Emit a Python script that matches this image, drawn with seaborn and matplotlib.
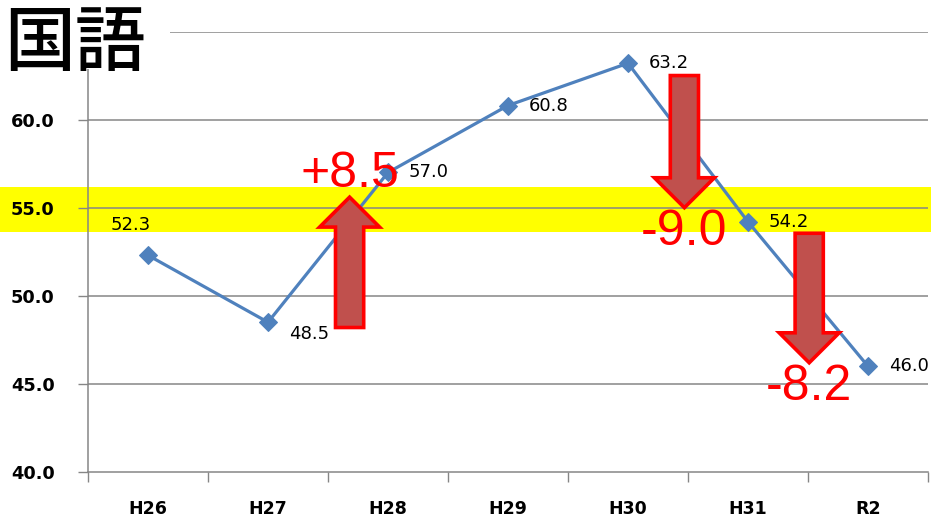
import matplotlib
matplotlib.use("Agg")
import matplotlib.pyplot as plt
from matplotlib.patches import Polygon, Rectangle
import seaborn as sns
import pandas as pd

# ---- data ----
categories = ["H26", "H27", "H28", "H29", "H30", "H31", "R2"]
scores = [52.3, 48.5, 57.0, 60.8, 63.2, 54.2, 46.0]
title_text = "国語"
y_ticks = [40.0, 45.0, 50.0, 55.0, 60.0, 65.0]
band_low, band_high = 53.6, 56.2

# change annotations (arrows between years)
change_labels = ["+8.5", "-9.0", "-8.2"]
arrow_x = [1.68, 4.47, 5.51]
arrow_start = [48.2, 62.5, 53.55]
arrow_end = [55.6, 55.0, 46.2]
change_label_y = [56.9, 53.6, 44.8]

# ---- style ----
sns.set_theme(style="white")
plt.rcParams["font.family"] = ["DejaVu Sans", "Noto Sans CJK JP"]

fig = plt.figure(figsize=(9.31, 5.21), dpi=100, facecolor="white")
ax = fig.add_axes([88 / 931, 49 / 521, 840 / 931, 440.5 / 521])
ax.set_facecolor("white")

df = pd.DataFrame({"year": categories, "score": scores})
x_pos = list(range(len(categories)))
df["x"] = x_pos

line_color = "#4F81BD"
sns.lineplot(data=df, x="x", y="score", ax=ax, color=line_color, linewidth=2.3,
             marker="D", markersize=9, markeredgecolor=line_color,
             markerfacecolor=line_color, sort=False, zorder=3, legend=False)

ax.set_xlim(-0.5, len(categories) - 0.5)
ax.set_ylim(40, 65)
ax.set_xlabel("")
ax.set_ylabel("")

# yellow band across full figure width
ax.axhspan(band_low, band_high, xmin=-88 / 840, xmax=1.01, color="#FFFF00",
           zorder=0.2, clip_on=False, linewidth=0)

# grid
grid_color = "#868686"
ax.set_yticks(y_ticks)
ax.set_yticklabels([f"{v:.1f}" if v < 65 else "" for v in y_ticks])
for v in y_ticks[1:]:
    ax.axhline(v, color=grid_color, linewidth=1.1, zorder=0.5)

ax.set_xticks(x_pos)
ax.set_xticklabels(categories)
ax.set_xticks([i - 0.5 for i in range(len(categories) + 1)], minor=True)
ax.tick_params(axis="x", which="major", length=0, pad=20, labelsize=12.5,
               labelcolor="black")
ax.tick_params(axis="x", which="minor", length=7, width=1.0, color=grid_color,
               direction="out")
ax.tick_params(axis="y", which="major", length=7, width=1.0, color=grid_color,
               direction="out", pad=17, labelsize=12.8, labelcolor="black")
for lab in ax.get_xticklabels() + ax.get_yticklabels():
    lab.set_fontweight("bold")
ax.xaxis.set_ticks_position("bottom")
ax.yaxis.set_ticks_position("left")

for side in ["top", "right"]:
    ax.spines[side].set_visible(False)
for side in ["left", "bottom"]:
    ax.spines[side].set_color(grid_color)
    ax.spines[side].set_linewidth(1.1)
ax.grid(False)

# data labels
for i, v in enumerate(scores):
    if i == 0:
        off, ha, va = (-17, 30), "center", "center"
    elif i == 1:
        off, ha, va = (21, -12), "left", "center"
    else:
        off, ha, va = (21, 0), "left", "center"
    ax.annotate(f"{v:.1f}", (i, v), xytext=off, textcoords="offset pixels",
                ha=ha, va=va, fontsize=13, color="black", zorder=4)

# arrows
shaft_w = 0.235
head_w = 0.5
head_len = 1.7
for xc, y0, y1 in zip(arrow_x, arrow_start, arrow_end):
    d = 1 if y1 > y0 else -1
    yb = y1 - d * head_len
    pts = [(xc - shaft_w / 2, y0), (xc - shaft_w / 2, yb), (xc - head_w / 2, yb),
           (xc, y1), (xc + head_w / 2, yb), (xc + shaft_w / 2, yb),
           (xc + shaft_w / 2, y0)]
    ax.add_patch(Polygon(pts, closed=True, facecolor="#C0504D", edgecolor="#FF0000",
                         linewidth=2.6, joinstyle="miter", zorder=5))

for xc, yl, lab in zip(arrow_x, change_label_y, change_labels):
    ax.text(xc, yl, lab, ha="center", va="center", fontsize=36, color="#FF0000",
            family=["Liberation Sans", "DejaVu Sans"], zorder=6)

# title with white background
fig.patches.append(Rectangle((0, 1 - 69 / 521), 170 / 931, 69 / 521,
                             transform=fig.transFigure, facecolor="white",
                             edgecolor="none", zorder=2))
fig.text(4 / 931, 1 - 45 / 521, title_text, ha="left", va="center", fontsize=51,
         color="black", family=["Noto Sans CJK JP", "DejaVu Sans"],
         fontweight="medium", zorder=3)

fig.savefig("out.png", dpi=100, facecolor="white")
